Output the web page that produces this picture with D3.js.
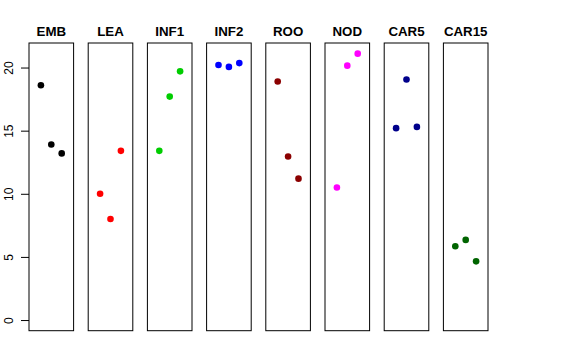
<!DOCTYPE html>
<html><head><meta charset="utf-8">
<script src="https://cdn.jsdelivr.net/npm/d3@7"></script>
<style>body{margin:0;background:#fff}svg{display:block}</style>
</head><body><svg id="c" width="576" height="360"></svg>
<script>
const categories = ["EMB","LEA","INF1","INF2","ROO","NOD","CAR5","CAR15"];
const colors = ["#000000","#FF0000","#00CD00","#0000FF","#8B0000","#FF00FF","#00008B","#006400"];
const v1 = [18.6, 10.0, 13.4, 20.2, 18.9, 10.5, 15.2, 5.85];
const v2 = [13.9, 8.0, 17.7, 20.05, 12.95, 20.15, 19.05, 6.35];
const v3 = [13.2, 13.4, 19.7, 20.35, 11.2, 21.1, 15.3, 4.65];
const yTicks = [0, 5, 10, 15, 20];

const svg = d3.select("#c");
const plotTop = 43, plotBottom = 330.7, plotLeft = 29, plotRight = 488;
const y = d3.scaleLinear().domain([-0.844, 21.944]).range([plotBottom, plotTop]);
const band = d3.scaleBand().domain(categories).range([plotLeft, plotRight + 14.6]);
const pw = 44.6;
const xi = d3.scaleLinear().domain([0, 2]).range([-10.4, 10.4]);
const font = "Liberation Sans, Arial, sans-serif";

categories.forEach((c, i) => {
  const x0 = band(c);
  const g = svg.append("g");
  g.append("rect").attr("x", x0).attr("y", plotTop).attr("width", pw).attr("height", plotBottom - plotTop)
    .attr("fill", "none").attr("stroke", "#000").attr("stroke-width", 1);
  g.append("text").attr("x", x0 + pw / 2).attr("y", 35.5).attr("text-anchor", "middle")
    .attr("font-family", font).attr("font-weight", "bold")
    .attr("font-size", 13.3).text(c);
  [v1[i], v2[i], v3[i]].forEach((v, j) => {
    g.append("circle").attr("cx", x0 + pw / 2 + xi(j)).attr("cy", y(v)).attr("r", 3.3)
      .attr("fill", colors[i]);
  });
});

const ax = svg.append("g").attr("transform", `translate(${plotLeft},0)`)
  .call(d3.axisLeft(y).tickValues(yTicks).tickSize(8).tickFormat(d3.format("d")));
ax.select(".domain").remove();
ax.selectAll(".tick line").attr("stroke", "#000");
ax.selectAll(".tick text").attr("font-family", font).attr("font-size", 12)
  .attr("fill", "#000").attr("x", null).attr("dy", null).attr("y", null)
  .attr("text-anchor", "middle")
  .attr("transform", "translate(-16,0) rotate(-90)");
</script></body></html>
